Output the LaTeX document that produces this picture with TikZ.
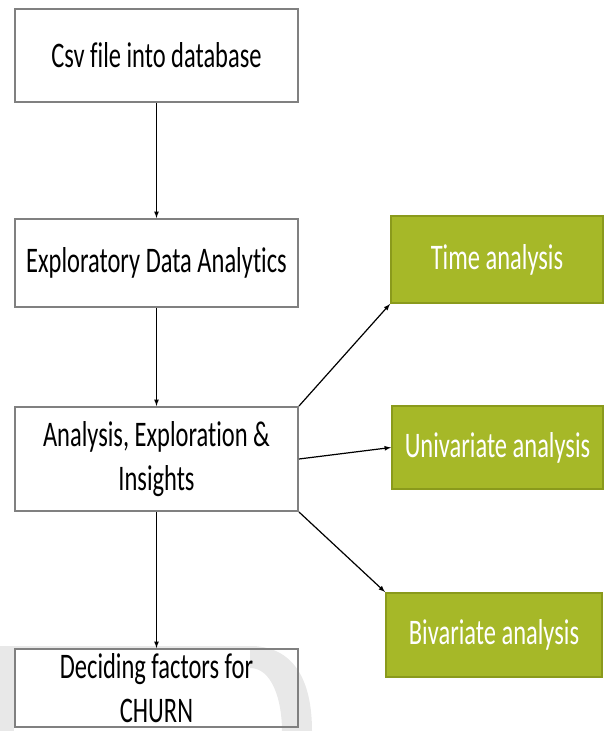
\documentclass[tikz,border=0pt]{standalone}
\usepackage{fontspec}
\setmainfont[FakeStretch=0.68, Ligatures=NoCommon]{Carlito}
\definecolor{leaf}{HTML}{A6B828}
\definecolor{leafdark}{HTML}{8A9A1C}
\definecolor{boxgray}{HTML}{808080}
\definecolor{wmgray}{HTML}{E8E8E8}
\begin{document}
\begin{tikzpicture}[>=latex, x=1pt, y=-1pt,
    stepbox/.style={draw=boxgray, line width=2pt, fill=white, minimum width=283pt, align=center, font=\fontsize{36}{44}\selectfont},
    greenbox/.style={draw=leafdark, line width=2pt, fill=leaf, text=white, font=\fontsize{36}{44}\selectfont},
    link/.style={->, line width=1.2pt}]
\useasboundingbox (0,0) rectangle (605,731);
% watermark round the last box
\fill[wmgray] (0,646) rectangle (257,650);
\fill[wmgray] (0,646) rectangle (14,731);
\fill[wmgray] (250,646) .. controls (300,646) and (312,690) .. (312,731) -- (282,731) .. controls (282,700) and (272,668) .. (250,668) -- cycle;

\node[stepbox, minimum height=93pt] (csv) at (156.5,55.5) {Csv file into database};
\node[stepbox, minimum height=88pt] (eda) at (156.5,263) {Exploratory Data Analyt\kern0pt ics};
\node[stepbox, minimum height=104pt] (aei) at (156.5,459) {Analysis, Exploration \&\\ Insights};
\node[stepbox, fill=none, minimum height=78pt] (dec) at (156.5,688) {Deciding factors for\\ CHURN};

\node[greenbox, minimum width=212pt, minimum height=87pt] (time) at (497,259.5) {Time analysis};
\node[greenbox, minimum width=211pt, minimum height=83pt] (uni) at (497.5,447.5) {Univariate analysis};
\node[greenbox, minimum width=216pt, minimum height=84pt] (biv) at (494,635) {Bivariate analysis};

\draw[link] (csv)--(eda);
\draw[link] (eda)--(aei);
\draw[link] (aei)--(dec);
\draw[link] (aei.north east)--(time.south west);
\draw[link] (aei.east)--(uni.west);
\draw[link] (aei.south east)--(biv.north west);
\end{tikzpicture}
\end{document}
